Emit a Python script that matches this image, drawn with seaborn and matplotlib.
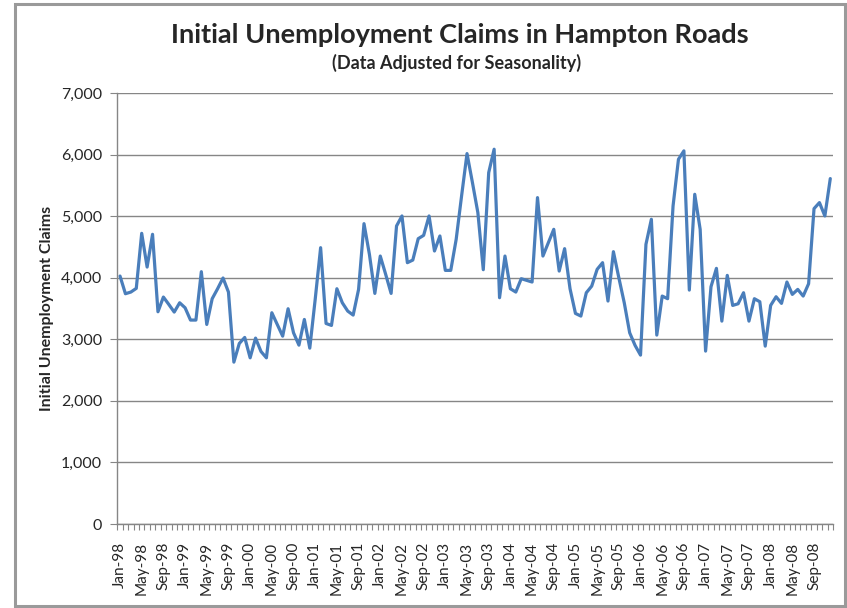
import matplotlib
matplotlib.use("Agg")
import matplotlib.pyplot as plt
import seaborn as sns
import pandas as pd
import numpy as np
from matplotlib.patches import Rectangle

months = ["Jan", "Feb", "Mar", "Apr", "May", "Jun", "Jul", "Aug", "Sep", "Oct", "Nov", "Dec"]
years = ["98", "99", "00", "01", "02", "03", "04", "05", "06", "07", "08"]
categories = [f"{m}-{y}" for y in years for m in months]

claims = [
    4027, 3740, 3767, 3827, 4721, 4173, 4705, 3447, 3686, 3566, 3442, 3593,
    3512, 3312, 3312, 4098, 3241, 3659, 3821, 3995, 3767, 2629, 2932, 3030,
    2699, 3019, 2802, 2699, 3431, 3241, 3051, 3496, 3106, 2905, 3322, 2856,
    3650, 4488, 3257, 3225, 3821, 3593, 3458, 3393, 3810, 4878, 4379, 3745,
    4352, 4054, 3745, 4840, 5003, 4244, 4287, 4634, 4688, 5003, 4434, 4678,
    4119, 4119, 4623, 5330, 6016, 5545, 5057, 4130, 5707, 6087, 3675, 4352,
    3821, 3767, 3984, 3957, 3930, 5301, 4352, 4569, 4786, 4108, 4472, 3821,
    3420, 3377, 3756, 3864, 4136, 4244, 3621, 4423, 4000, 3593, 3106, 2900,
    2743, 4542, 4949, 3068, 3702, 3659, 5165, 5924, 6060, 3799, 5355, 4786,
    2808, 3854, 4152, 3295, 4038, 3550, 3577, 3756, 3295, 3659, 3610, 2889,
    3550, 3691, 3583, 3930, 3729, 3810, 3702, 3902, 5122, 5220, 5003, 5610,
]

title = "Initial Unemployment Claims in Hampton Roads"
subtitle = "(Data Adjusted for Seasonality)"
ylabel = "Initial Unemployment Claims"
yticks = [0, 1000, 2000, 3000, 4000, 5000, 6000, 7000]

df = pd.DataFrame({"idx": np.arange(len(claims)), "month": categories, "claims": claims})

sns.set_style("white")
plt.rcParams["font.family"] = ["Lato", "DejaVu Sans"]

W, H = 847, 608
fig = plt.figure(figsize=(W / 100, H / 100), dpi=100)
ax = fig.add_axes([117.3 / W, 1 - 524 / H, (833 - 117.3) / W, (524 - 93) / H])

sns.lineplot(data=df, x="idx", y="claims", ax=ax, color="#4A7EBB", linewidth=2.3)

ax.set_xlim(-0.5, len(claims) - 0.5)
ax.set_ylim(0, 7000)
ax.set_yticks(yticks)
ax.set_yticklabels([f"{v:,}" for v in yticks], fontsize=11.5)
ax.yaxis.grid(True, color="#868686", linewidth=1.0)
ax.set_axisbelow(True)

tick_idx = list(range(0, len(claims), 4))
ax.set_xticks(tick_idx)
ax.set_xticklabels([categories[i] for i in tick_idx], rotation=90, fontsize=11)
ax.set_xticks(np.arange(-0.5, len(claims) + 0.5, 1), minor=True)
ax.tick_params(axis="x", which="major", length=0, pad=13)
ax.tick_params(axis="x", which="minor", length=4, width=0.8, color="#868686", direction="out", bottom=True)
ax.tick_params(axis="y", which="major", length=5, width=0.8, color="#868686", left=True, pad=6)

for side in ["top", "right"]:
    ax.spines[side].set_visible(False)
for side in ["left", "bottom"]:
    ax.spines[side].set_color("#868686")
    ax.spines[side].set_linewidth(1.0)

ax.set_xlabel("")
ax.set_ylabel(ylabel, fontsize=11.5, fontweight="bold", labelpad=5)

fig.text(460 / W, 1 - 35 / H, title, ha="center", va="center", fontsize=19.5, fontweight="bold")
fig.text(456.5 / W, 1 - 63 / H, subtitle, ha="center", va="center", fontsize=13, fontweight="bold")

fig.patches.append(Rectangle((14.5 / W, 1 - 605.5 / H), (844.5 - 14.5) / W, (605.5 - 3.5) / H,
                             transform=fig.transFigure, fill=False, edgecolor="#9a9a9a", linewidth=2.2))

fig.savefig("out.png", dpi=100)
